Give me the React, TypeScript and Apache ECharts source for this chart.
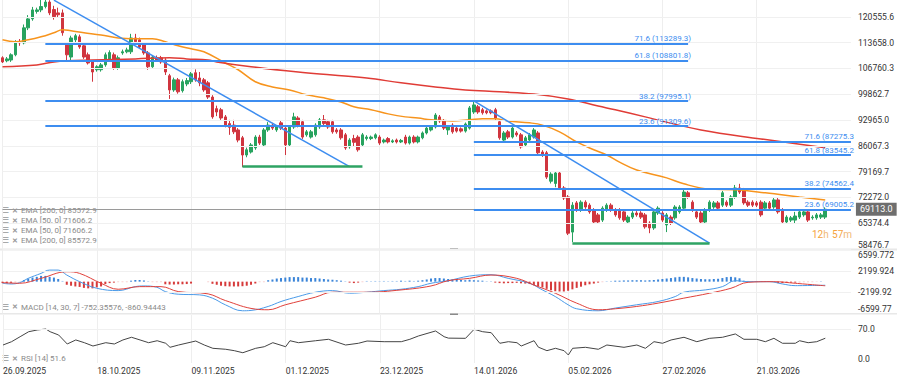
import React, { useEffect, useRef } from 'react';
import * as echarts from 'echarts';

// ---------- categories ----------
const DAY = 86400000;
const START = Date.UTC(2025, 8, 26);
const SLOTS = 199; // 193 daily candles + empty space to the right
const dates: string[] = Array.from({ length: SLOTS }, (_, i) => {
  const d = new Date(START + i * DAY);
  const dd = String(d.getUTCDate()).padStart(2, '0');
  const mm = String(d.getUTCMonth() + 1).padStart(2, '0');
  return `${dd}.${mm}.${d.getUTCFullYear()}`;
});
const dateLabelIdx = [0, 22, 44, 66, 88, 110, 132, 154, 176];

// ---------- axis ticks ----------
const priceTicks = [58476.7, 65374.4, 72272.0, 79169.7, 86067.3, 92965.0, 99862.7, 106760.3, 113658.0, 120555.6];
const macdTicks = [-6599.772, -2199.924, 2199.924, 6599.772];
const macdTickLabels = ['-6599.77', '-2199.92', '2199.924', '6599.772'];
const rsiTicks = [0, 70];
const lastPrice = 69113.0;

// ---------- candles [open, close, low, high] ----------
const candles: number[][] = [
  [109600,108500,108200,110000],[108800,109300,108400,109800],[109000,110400,108500,110800],[110400,113900,110000,114300],
  [113900,113600,112800,114600],[113600,117600,113200,118500],[117600,120000,117000,121000],[120000,122400,119500,123200],
  [122000,122400,121400,123000],[122400,123300,121800,125100],[123300,124500,122800,126300],[124500,121600,121000,125000],
  [122500,120600,119800,123500],[121600,121100,120300,123000],[121600,116300,115500,122500],[113000,110400,109000,113800],
  [109800,114900,109000,115500],[114400,115500,113800,116000],[115200,112500,112000,115800],[112800,109800,109300,113200],
  [110400,108200,107800,111000],[108500,105800,103200,109000],[106400,107200,105900,107600],[106400,107700,105900,108200],
  [107700,110400,107200,111000],[109000,111000,108500,111600],[110400,106900,106400,111000],[106900,109600,106400,110200],
  [110900,111200,110400,111800],[111200,111700,110800,112300],[111200,114900,110600,116000],[114900,113900,113300,116000],
  [114400,112500,112000,115000],[113100,110900,110400,113600],[110900,107200,106400,111400],[107200,109800,106900,110300],
  [109600,109000,108500,110200],[109600,108500,108000,110100],[109000,105800,105000,109500],[104800,101000,98600,105300],
  [101000,103700,100500,104300],[103700,100500,100000,104200],[100800,103200,100300,103800],[102600,103500,102000,104200],
  [103200,105300,102600,105800],[105600,103700,103200,106500],[104200,102900,102000,105800],[103700,101000,100500,104200],
  [102900,99100,98600,103400],[99100,93800,93300,99600],[96000,95100,94000,96800],[95700,93500,93000,96200],
  [93800,91600,91000,94300],[92000,91000,89000,93000],[91600,89800,89200,93000],[90300,87600,87000,90800],
  [88200,83600,80400,88700],[83600,85000,83000,85600],[84400,86300,84000,86800],[85500,88400,85000,88900],
  [88400,86800,86300,89000],[86300,90300,85800,90800],[90300,91600,89800,92400],[91600,90800,90300,92200],
  [90300,91100,89800,91600],[92200,90800,90300,92700],[90800,86300,83600,91300],[86300,91100,85800,91600],
  [91100,93800,90600,94900],[93500,91600,91000,94000],[92500,88400,87900,93000],[89000,89800,88500,90300],
  [88400,89800,88000,90300],[89000,91600,88500,92100],[91100,93000,90600,93500],[93000,92000,91100,94300],
  [92500,91100,90600,93000],[92500,89800,89300,93000],[90300,89800,89300,90800],[90300,88200,87700,90800],
  [89000,85500,85000,89500],[85800,87600,85300,88100],[88000,87000,85800,89000],[88400,85000,84500,88900],
  [86300,89000,85800,89500],[88000,88400,87500,88900],[88000,88400,87600,88800],[88200,89000,87800,89400],
  [88400,86800,86300,88900],[87100,87600,86700,88000],[88000,87100,86700,88400],[87100,87400,86800,87800],
  [87600,87100,86700,88000],[87100,87500,86800,87900],[88400,86800,86400,89000],[86800,88400,86400,88800],
  [88400,87100,86700,88900],[87100,88400,86700,88800],[88200,89500,87800,89900],[89500,90800,89100,91200],
  [90300,91100,89900,91600],[91100,94300,90700,94800],[93800,92700,92200,94300],[92700,90800,90300,93200],
  [90300,91100,89000,91600],[91600,89800,89300,92100],[90800,90000,89600,91300],[90600,90000,89600,91000],
  [90000,91900,89600,92300],[90800,96200,90400,96700],[95100,97000,94600,98100],[96500,95100,94600,97000],
  [95700,94900,94400,96200],[95400,94900,94500,95800],[95400,94900,94500,95800],[95700,93500,93000,96200],
  [92500,88200,87700,93000],[87600,89500,87100,90000],[89800,88400,87900,90300],[88400,90800,88000,91300],
  [89500,89000,88500,90000],[89000,85800,85300,89500],[86300,88200,85800,88700],[87600,89000,87200,89500],
  [88400,90300,88000,90800],[89500,84200,83700,90000],[84400,83600,83100,84900],[84200,77700,77200,84700],
  [76600,78500,76000,79000],[76000,78800,75000,79300],[78800,74800,74300,79300],[74800,72100,71600,75300],
  [72400,62700,62200,72900],[63000,70200,60300,71000],[70800,68900,68400,71300],[68900,71000,68400,71500],
  [71000,69700,69200,71500],[70200,68400,67900,70700],[68900,65700,65200,69400],[67600,65700,65200,68100],
  [66200,69400,65700,69900],[68900,70200,68400,70700],[70200,68900,68400,70700],[68900,67600,67100,69400],
  [68900,66800,66300,69400],[68400,66200,65700,68900],[65700,67000,65200,67500],[67000,68100,66500,68600],
  [68100,67600,67100,68600],[68100,67000,66500,68600],[67600,64400,63900,68100],[65400,64100,62700,65900],
  [64100,68400,63600,68900],[68100,69400,67600,69900],[68100,66200,65700,68600],[64900,67600,63000,68100],
  [67000,65400,64900,67500],[66800,69700,66300,70200],[68400,69700,67900,70200],[69400,73700,68900,74300],
  [73500,72400,71900,74000],[71000,68900,68400,71500],[68400,67000,66500,68900],[68100,65700,65200,68600],
  [65700,68900,65200,69400],[68900,71000,68400,71500],[69700,70800,69200,71300],[70800,69400,68900,71300],
  [70200,73500,69700,74000],[71000,70200,69700,71500],[70200,72400,69700,72900],[72400,74800,71900,75600],
  [74800,73700,73200,75900],[74300,70800,70300,74800],[71000,70200,69700,71500],[71000,70200,69700,71500],
  [70800,70200,69700,71300],[71000,67600,67100,71500],[69400,70800,68900,71300],[70800,69400,68900,71300],
  [69700,71600,69200,72100],[71600,68400,67900,72100],[68900,65700,65200,69400],[65700,67000,65200,67500],
  [66200,66800,65700,67300],[66200,67300,65400,68400],[67000,68400,66500,68900],[67600,68400,67100,68900],
  [68400,66200,65700,68900],[66800,67000,66300,67500],[66800,67600,66300,68100],[67000,67600,66500,68100],
  [67000,69113,66500,69600],
];

// ---------- moving averages [index, value] ----------
const ema50: number[][] = [
  [0,114400],[3,113900],[6,114400],[9,115200],[12,116300],[14,117100],[16,116800],[19,116300],[23,115700],
  [27,114900],[31,114700],[35,114700],[38,113900],[41,112800],[44,112000],[47,111200],[52,108200],[55,106400],
  [59,103200],[63,101800],[67,101000],[71,99700],[75,98900],[79,97800],[82,96500],[86,95700],[90,94600],
  [94,93800],[97,93500],[100,93000],[105,92700],[109,93000],[112,93300],[115,93300],[118,92700],[123,92200],
  [126,91600],[130,89800],[134,87100],[138,85000],[141,83600],[144,81700],[148,79600],[155,77500],[159,75900],
  [165,74500],[171,74300],[178,73500],[186,72400],[192,71606.2],
];
const ema200: number[][] = [
  [0,107200],[8,107700],[12,108500],[15,108800],[21,109000],[31,109300],[39,109600],[43,109300],[48,109000],
  [50,108500],[58,107200],[69,105800],[77,105000],[85,104200],[93,102900],[101,101800],[108,101000],[116,100500],
  [124,99900],[132,98600],[139,96700],[143,95700],[150,93800],[163,90300],[177,87900],[192,85572.9],
];

// ---------- MACD [index, value] ----------
const macdLine: number[][] = [
  [0,-340],[2,-480],[4,-210],[6,690],[9,1725],[11,2410],[13,2410],[15,1380],[18,-5],[22,-1380],[27,-1865],
  [31,-1040],[33,-900],[36,-1170],[38,-2070],[41,-2620],[46,-2760],[49,-3445],[52,-4825],[56,-6070],[58,-6000],
  [62,-5175],[65,-4140],[69,-3105],[73,-2205],[77,-1865],[81,-2410],[85,-2205],[89,-1865],[93,-1585],[97,-1040],
  [100,-340],[104,200],[109,1170],[114,1445],[118,690],[123,-340],[126,-1725],[129,-3105],[132,-4825],[134,-5655],
  [139,-6070],[143,-5510],[148,-4825],[153,-4140],[157,-3105],[159,-2205],[164,-1725],[168,-1040],[171,200],
  [174,-5],[179,-5],[182,-480],[185,-830],[192,-752.36],
];
const signalLine: number[][] = [
  [0,-210],[4,-340],[9,690],[15,2065],[18,1725],[23,-340],[27,-1585],[32,-1040],[37,-1040],[41,-2070],[48,-2550],
  [52,-3935],[59,-5720],[62,-5860],[66,-4825],[73,-3240],[77,-2205],[85,-2205],[93,-1725],[100,-900],[104,200],
  [109,690],[114,1380],[120,690],[124,-690],[129,-2410],[134,-4480],[139,-5860],[143,-5655],[148,-5175],
  [153,-4480],[159,-3445],[165,-2410],[170,-1380],[174,-135],[180,-5],[185,-340],[192,-860.94],
];
const macdHist: number[] = [
  -300,-300,-250,-150,-50,350,650,850,1000,1200,1200,1000,850,550,150,-650,-850,-1000,-1100,-1300,
  -1400,-1400,-1200,-1000,-500,-300,-200,-100,-100,-100,200,350,350,250,100,-100,-100,-100,-550,-600,
  -600,-550,-550,-500,-400,0,0,0,-100,-450,-650,-850,-950,-1000,-1000,-1000,-950,-850,-650,-400,
  -100,-100,300,450,650,750,850,950,950,950,850,850,750,750,650,550,450,400,300,200,
  100,-200,-300,-200,-100,150,100,150,100,150,100,150,150,200,150,200,150,200,300,450,
  650,750,750,650,550,450,400,350,300,400,300,250,200,100,100,-200,-300,-350,-300,-300,
  -250,-350,-400,-500,-750,-950,-1200,-1500,-1800,-2000,-2050,-2050,-1900,-1600,-1300,-1050,-750,-550,-400,-200,
  -100,100,150,200,200,250,250,300,300,300,250,300,350,450,550,650,750,900,1000,1000,
  900,750,650,550,500,500,550,600,750,950,1000,900,700,200,150,100,100,100,100,100,
  50,-300,-300,-250,-200,-200,-150,-100,-100,-100,-50,100,
];

// ---------- RSI [index, value] ----------
const rsi: number[][] = [
  [0,37.5],[2,44.4],[4,54.8],[6,65.2],[8,68.8],[10,70.8],[11,65.2],[13,58.3],[15,39.6],[17,48],[19,42.3],
  [21,35.4],[24,42.3],[26,39.6],[28,48],[30,53.6],[32,48],[34,42.3],[36,46.4],[38,41.1],[39,32.7],[41,37.5],
  [45,45.8],[47,37.5],[49,30.6],[52,28.6],[54,25.7],[56,21.4],[59,30.6],[61,33.9],[63,42.3],[66,33.9],[67,46.4],
  [69,42.3],[73,46.4],[76,49.4],[80,37.5],[83,41.1],[85,45.8],[89,44.4],[93,44.4],[95,49.4],[97,56.3],[101,66.7],
  [103,54.8],[104,51.8],[108,51.4],[110,70.2],[112,65.2],[114,63.1],[116,41.1],[118,44.4],[120,42.3],[121,35.4],
  [124,46.4],[125,33],[127,25.7],[129,30.6],[131,25.7],[132,16.7],[133,30.6],[136,32.7],[139,28.6],[141,37.5],
  [145,32.7],[148,37.5],[150,30.6],[152,44.4],[154,41.1],[156,48],[159,53.6],[162,44.4],[165,51.4],[168,53.6],
  [171,60.5],[173,49.4],[176,49.4],[178,44.4],[180,51.4],[182,41.1],[185,41.1],[186,46.4],[188,42.3],[190,44.4],
  [192,51.6],
];

// ---------- drawings ----------
const fibLeftRange = [10, 160];
const fibLeftValues = [113289.3, 108801.8, 97995.1, 91309.6];
const fibLeftLabels = ['71.6 (113289.3)', '61.8 (108801.8)', '38.2 (97995.1)', '23.6 (91309.6)'];
const fibRightRange = [110, 198];
const fibRightValues = [87275.3, 83545.2, 74562.4, 69005.2];
const fibRightLabels = ['71.6 (87275.3', '61.8 (83545.2', '38.2 (74562.4', '23.6 (69005.2'];
// first line runs from the 126294 high; its visible part starts where it enters the pane
const trendLines = [[12, 125004, 81, 80502.9], [110, 98085, 165, 60022.3]];
const lowLines = [[56, 80502.9, 84, 80502.9], [133, 60022.3, 165, 60022.3]];

const legendMain = ['EMA [200, 0] 85572.9', 'EMA [50, 0] 71606.2', 'EMA [50, 0] 71606.2', 'EMA [200, 0] 85572.9'];
const legendMacd = 'MACD [14, 30, 7] -752.35576, -860.94443';
const legendRsi = 'RSI [14] 51.6';

const FONT = 'Roboto, Arial, sans-serif';
const BLUE = '#3d8df0';
const GREEN_LINE = '#2ea363';
const UP = '#27a35f';
const DOWN = '#d0353f';

export default function App() {
  const ref = useRef<HTMLDivElement>(null);
  useEffect(() => {
    if (!ref.current) return;
    const chart = echarts.init(ref.current, null, { renderer: 'svg' });
    const labelInterval = (i: number) => dateLabelIdx.includes(i);
    const gridL = 2.5, gridR = 46;

    const xAxisBase = (gi: number) => ({
      type: 'category', gridIndex: gi, data: dates, boundaryGap: false,
      axisLine: { show: false }, axisTick: { show: false },
      axisLabel: {
        show: gi === 2, interval: labelInterval, align: 'left', margin: 3,
        fontSize: 8.6, color: '#333', fontFamily: FONT,
      },
      splitLine: { show: true, interval: labelInterval, lineStyle: { color: '#eeeeee', width: 1 } },
    });

    const fibItems = (range: number[], vals: number[], labels: string[]) =>
      vals.map((v, k) => [
        {
          coord: [range[0], v],
          lineStyle: { color: BLUE, width: 2, type: 'solid' },
          label: { show: true, position: 'insideEndTop', formatter: labels[k], color: BLUE, fontSize: 8, fontFamily: FONT, distance: [-3, 1] },
        },
        { coord: [range[1], v] },
      ]);
    const segItems = (segs: number[][], color: string, width: number) =>
      segs.map((s) => [
        { coord: [s[0], s[1]], lineStyle: { color, width, type: 'solid' }, label: { show: false } },
        { coord: [s[2], s[3]] },
      ]);

    const option: any = {
      animation: false,
      textStyle: { fontFamily: FONT },
      grid: [
        { left: gridL, right: gridR, top: 0, height: 249 },
        { left: gridL, right: gridR, top: 250, height: 63.3 },
        { left: gridL, right: gridR, top: 315, height: 48 },
      ],
      xAxis: [xAxisBase(0), xAxisBase(1), xAxisBase(2)],
      yAxis: [
        {
          type: 'value', gridIndex: 0, position: 'right', min: 58476.7, max: 125047,
          axisLine: { show: false }, axisTick: { show: false, customValues: priceTicks },
          splitLine: { show: false },
          axisLabel: {
            customValues: priceTicks, formatter: (v: number) => v.toFixed(1),
            margin: 7, fontSize: 8.6, color: '#333', fontFamily: FONT, verticalAlignMinLabel: 'bottom',
          },
        },
        {
          type: 'value', gridIndex: 1, position: 'right', min: -6599.772, max: 6599.772,
          axisLine: { show: false }, axisTick: { show: false, customValues: macdTicks },
          splitLine: { show: false },
          axisLabel: {
            customValues: macdTicks,
            formatter: (v: number) => {
              let best = 0;
              macdTicks.forEach((t, i) => { if (Math.abs(t - v) < Math.abs(macdTicks[best] - v)) best = i; });
              return macdTickLabels[best];
            },
            margin: 7, fontSize: 8.6, color: '#333', fontFamily: FONT,
            verticalAlignMinLabel: 'bottom', verticalAlignMaxLabel: 'top',
          },
        },
        {
          type: 'value', gridIndex: 2, position: 'right', min: 0, max: 100,
          axisLine: { show: false }, axisTick: { show: false, customValues: rsiTicks },
          splitLine: { show: false },
          axisLabel: {
            customValues: rsiTicks, formatter: (v: number) => v.toFixed(1),
            margin: 7, fontSize: 8.6, color: '#333', fontFamily: FONT, verticalAlignMinLabel: 'bottom',
          },
        },
      ],
      series: [
        {
          name: 'gridMain', type: 'line', xAxisIndex: 0, yAxisIndex: 0, data: [], silent: true,
          markLine: {
            silent: true, symbol: ['none', 'none'], label: { show: false },
            lineStyle: { color: '#f0f0f0', width: 1, type: 'solid' },
            data: priceTicks.map((v) => ({ yAxis: v })),
          },
        },
        {
          name: 'gridMacd', type: 'line', xAxisIndex: 1, yAxisIndex: 1, data: [], silent: true,
          markLine: {
            silent: true, symbol: ['none', 'none'], label: { show: false },
            lineStyle: { color: '#f0f0f0', width: 1, type: 'solid' },
            data: [macdTicks[1], macdTicks[2]].map((v) => ({ yAxis: v })),
          },
        },
        {
          name: 'gridRsi', type: 'line', xAxisIndex: 2, yAxisIndex: 2, data: [], silent: true,
          markLine: {
            silent: true, symbol: ['none', 'none'], label: { show: false },
            lineStyle: { color: '#f0f0f0', width: 1, type: 'solid' },
            data: [{ yAxis: rsiTicks[1] }],
          },
        },
        {
          name: 'Price', type: 'candlestick', xAxisIndex: 0, yAxisIndex: 0, data: candles,
          barWidth: 3, clip: false,
          itemStyle: { color: UP, color0: DOWN, borderColor: UP, borderColor0: DOWN, borderWidth: 1 },
          markLine: {
            silent: true, symbol: ['none', 'none'], label: { show: false },
            data: [
              {
                yAxis: lastPrice,
                lineStyle: { color: '#9a9a9a', width: 1, type: 'solid' },
                label: {
                  show: true, position: 'end', formatter: lastPrice.toFixed(1), color: '#fff',
                  backgroundColor: '#6e6e6e', padding: [2, 4, 2, 4], fontSize: 9, fontFamily: FONT, distance: 5,
                },
              },
              ...fibItems(fibLeftRange, fibLeftValues, fibLeftLabels),
              ...fibItems(fibRightRange, fibRightValues, fibRightLabels),
              ...segItems(trendLines, BLUE, 1.5),
              ...segItems(lowLines, GREEN_LINE, 2.5),
            ],
          },
        },
        {
          name: 'EMA 50', type: 'line', xAxisIndex: 0, yAxisIndex: 0, data: ema50, smooth: 0.4,
          showSymbol: false, lineStyle: { color: '#f7941d', width: 1.5 }, silent: true,
        },
        {
          name: 'EMA 200', type: 'line', xAxisIndex: 0, yAxisIndex: 0, data: ema200, smooth: 0.4,
          showSymbol: false, lineStyle: { color: '#e03c36', width: 1.5 }, silent: true,
        },
        {
          name: 'Histogram', type: 'bar', xAxisIndex: 1, yAxisIndex: 1, data: macdHist, barWidth: 2,
          silent: true,
          itemStyle: {
            color: (p: any) => {
              const v = p.value as number;
              if (v >= 0) return Math.abs(v) <= 150 ? '#8fbbec' : '#3a84d8';
              return Math.abs(v) <= 150 ? '#f0a3a3' : '#d63a3a';
            },
          },
        },
        {
          name: 'MACD', type: 'line', xAxisIndex: 1, yAxisIndex: 1, data: macdLine, smooth: 0.4,
          showSymbol: false, lineStyle: { color: '#4a9ae8', width: 1 }, silent: true,
        },
        {
          name: 'Signal', type: 'line', xAxisIndex: 1, yAxisIndex: 1, data: signalLine, smooth: 0.4,
          showSymbol: false, lineStyle: { color: '#e0403a', width: 1 }, silent: true,
        },
        {
          name: 'RSI', type: 'line', xAxisIndex: 2, yAxisIndex: 2, data: rsi,
          showSymbol: false, lineStyle: { color: '#444', width: 1 }, silent: true,
        },
      ],
      graphic: [
        { type: 'rect', shape: { x: 0, y: 248.5, width: 897, height: 2 }, style: { fill: '#e8e8e8' }, silent: true },
        { type: 'rect', shape: { x: 0, y: 313, width: 897, height: 1.5 }, style: { fill: '#e8e8e8' }, silent: true },
        { type: 'rect', shape: { x: 450, y: 248.5, width: 8, height: 1.5 }, style: { fill: '#8a8a8a' }, silent: true },
        { type: 'rect', shape: { x: 450, y: 313.5, width: 8, height: 1.5 }, style: { fill: '#8a8a8a' }, silent: true },
        ...[...legendMain.map((t, i) => [t, 210.7 + i * 10] as [string, number]),
          [legendMacd, 307.3] as [string, number], [legendRsi, 358.7] as [string, number]].flatMap(([t, y]) => [
          { type: 'text', x: 2, y, silent: true, style: { text: '☰', fill: '#999', font: `8px ${FONT}`, verticalAlign: 'middle' } },
          { type: 'text', x: 12, y, silent: true, style: { text: '✕', fill: '#999', font: `bold 7px ${FONT}`, verticalAlign: 'middle' } },
          { type: 'text', x: 21, y, silent: true, style: { text: t, fill: '#8a8a8a', font: `8px ${FONT}`, verticalAlign: 'middle' } },
        ]),
        {
          type: 'text', x: 812, y: 234, silent: true,
          style: {
            text: '{n|12}{u|h} {n|57}{u|m}', verticalAlign: 'middle',
            rich: {
              n: { fill: '#f5a33c', fontSize: 10, fontFamily: FONT },
              u: { fill: '#f0b877', fontSize: 10, fontFamily: FONT },
            },
          },
        },
      ],
    };
    chart.setOption(option);
    return () => chart.dispose();
  }, []);
  return <div ref={ref} style={{ position: 'absolute', left: 0, top: 0, width: 897, height: 381 }} />;
}
